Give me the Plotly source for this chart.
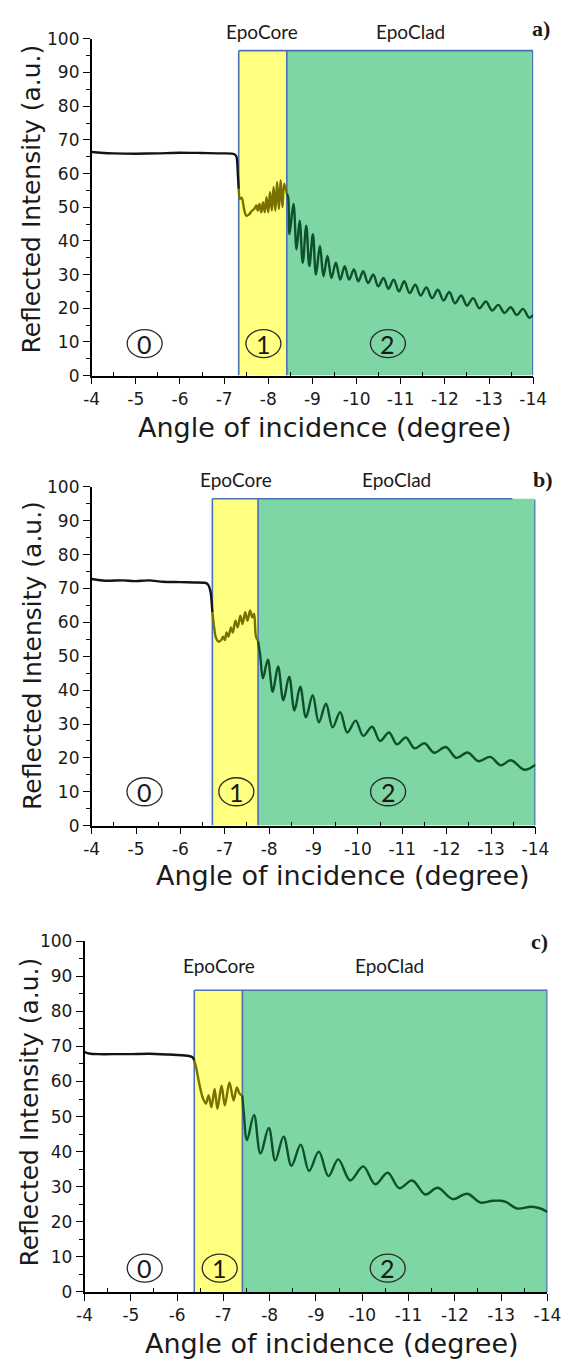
import plotly.graph_objects as go

W, H = 577, 1369

# ---------------- data ----------------
x_tick_vals = [-4, -5, -6, -7, -8, -9, -10, -11, -12, -13, -14]
x_tick_text = ["-4", "-5", "-6", "-7", "-8", "-9", "-10", "-11", "-12", "-13", "-14"]
x_minor_vals = [-4.5, -5.5, -6.5, -7.5, -8.5, -9.5, -10.5, -11.5, -12.5, -13.5]
y_tick_vals = [0, 10, 20, 30, 40, 50, 60, 70, 80, 90, 100]
y_tick_text = ["0", "10", "20", "30", "40", "50", "60", "70", "80", "90", "100"]
y_minor_vals = [5, 15, 25, 35, 45, 55, 65, 75, 85, 95]

x_title = "Angle of incidence (degree)"
y_title = "Reflected Intensity (a.u.)"
core_label = "EpoCore"
clad_label = "EpoClad"
region_labels = ["0", "1", "2"]
panel_letters = ["a)", "b)", "c)"]

# panel a
a_air_x = [-4.0, -4.2, -4.5, -5.0, -5.5, -6.0, -6.5, -7.0, -7.22, -7.28, -7.31, -7.33]
a_air_y = [66.4, 66.2, 66.0, 65.9, 66.0, 66.2, 66.1, 66.0, 65.8, 65.0, 60.0, 55.5]
a_core_x = [-7.33, -7.36, -7.40, -7.45, -7.50, -7.56, -7.62, -7.68, -7.73, -7.76, -7.80, -7.84, -7.88,
            -7.92, -7.96, -8.00, -8.04, -8.08, -8.12, -8.16, -8.20, -8.24, -8.28, -8.32, -8.36, -8.42]
a_core_y = [55.5, 52.5, 52.8, 49.5, 47.5, 47.8, 48.8, 49.5, 50.5, 49.0, 51.0, 48.5, 51.5,
            48.5, 53.0, 48.5, 54.5, 49.0, 56.0, 49.0, 57.5, 49.5, 58.0, 50.0, 57.0, 54.0]
a_clad_x = [-8.42, -8.45, -8.48, -8.57, -8.64, -8.71, -8.78, -8.86, -8.93, -9.01, -9.08, -9.17, -9.25,
            -9.34, -9.43, -9.53, -9.63, -9.73, -9.83, -9.94, -10.04, -10.15, -10.26, -10.38, -10.49,
            -10.61, -10.72, -10.84, -10.96, -11.08, -11.20, -11.33, -11.45, -11.58, -11.71, -11.84,
            -11.97, -12.10, -12.23, -12.37, -12.50, -12.64, -12.78, -12.93, -13.07, -13.21, -13.35,
            -13.49, -13.63, -13.77, -13.91, -14.0]
a_clad_y = [54.0, 53.0, 42.0, 51.0, 37.5, 46.0, 33.5, 44.5, 32.5, 42.0, 30.0, 38.5, 29.5,
            35.5, 29.0, 33.5, 28.5, 32.5, 28.5, 31.5, 28.0, 31.0, 27.5, 30.0, 26.5,
            29.0, 25.8, 28.5, 25.0, 28.0, 24.5, 27.0, 23.8, 26.2, 23.0, 25.5,
            22.3, 24.8, 21.5, 23.8, 20.8, 23.0, 20.0, 22.0, 19.3, 21.0, 18.6,
            20.3, 18.0, 19.8, 17.2, 18.0]
a_regions = [-7.33, -8.42, -14.0]   # core start, clad start, clad end
a_top = 96.5

# panel b
b_air_x = [-4.0, -4.3, -4.7, -5.0, -5.3, -5.6, -6.0, -6.3, -6.55, -6.62, -6.68, -6.72]
b_air_y = [72.8, 72.3, 72.4, 72.2, 72.4, 72.0, 71.9, 71.8, 71.7, 71.2, 69.0, 63.0]
b_core_x = [-6.72, -6.76, -6.80, -6.86, -6.92, -6.96, -7.00, -7.04, -7.08, -7.14, -7.18, -7.24,
            -7.29, -7.35, -7.40, -7.46, -7.51, -7.57, -7.62, -7.66, -7.70, -7.75]
b_core_y = [63.0, 58.5, 55.5, 54.3, 54.8, 55.8, 54.8, 57.0, 55.8, 58.5, 57.0, 60.5,
            58.5, 62.0, 59.5, 63.0, 60.5, 63.5, 61.5, 62.5, 56.0, 54.5]
b_clad_x = [-7.75, -7.80, -7.86, -7.97, -8.08, -8.20, -8.32, -8.45, -8.57, -8.70, -8.83, -8.98,
            -9.12, -9.28, -9.43, -9.60, -9.76, -9.95, -10.12, -10.32, -10.50, -10.70, -10.88,
            -11.08, -11.28, -11.50, -11.72, -11.98, -12.22, -12.47, -12.72, -12.98, -13.22,
            -13.45, -13.75, -14.0]
b_clad_y = [54.5, 50.0, 43.5, 49.0, 39.5, 47.0, 37.0, 44.0, 34.0, 41.0, 32.0, 38.5,
            30.5, 36.0, 29.0, 33.5, 27.5, 31.0, 26.5, 29.2, 25.0, 27.5, 24.0,
            26.0, 22.8, 24.3, 21.5, 23.2, 20.0, 21.6, 19.0, 20.3, 17.8,
            19.3, 16.5, 18.0]
b_regions = [-6.72, -7.75, -14.0]
b_top = 96.5

# panel c
c_air_x = [-4.0, -4.1, -4.3, -4.7, -5.0, -5.4, -5.8, -6.1, -6.28, -6.34, -6.37]
c_air_y = [68.4, 68.0, 67.8, 67.8, 67.8, 67.9, 67.7, 67.5, 67.2, 66.8, 66.0]
c_core_x = [-6.37, -6.41, -6.48, -6.55, -6.62, -6.68, -6.74, -6.81, -6.87, -6.96, -7.03, -7.13,
            -7.22, -7.29, -7.35, -7.41]
c_core_y = [66.0, 64.0, 59.3, 55.5, 53.7, 56.0, 52.7, 57.9, 52.2, 58.8, 53.2, 59.7,
            54.6, 58.3, 56.5, 56.0]
c_clad_x = [-7.41, -7.44, -7.51, -7.66, -7.80, -7.98, -8.12, -8.30, -8.47, -8.67, -8.85, -9.06,
            -9.27, -9.48, -9.74, -10.02, -10.28, -10.55, -10.80, -11.08, -11.36, -11.63, -11.95,
            -12.27, -12.55, -12.82, -13.00, -13.10, -13.35, -13.65, -13.85, -14.0]
c_clad_y = [56.0, 51.0, 43.3, 50.5, 39.5, 46.8, 37.5, 44.3, 36.0, 42.0, 34.5, 40.0,
            33.0, 37.8, 31.8, 35.8, 30.7, 34.0, 29.6, 31.8, 27.8, 29.7, 26.5,
            28.0, 25.5, 26.0, 26.0, 25.7, 23.8, 24.3, 23.8, 22.8]
c_regions = [-6.37, -7.41, -14.0]
c_top = 86.0

# ---------------- styling / layout (pixel geometry) ----------------
YELLOW = "#FFFF80"
GREEN = "#7DD6A4"
BLUE = "#4A70B8"
C_AIR = "#141414"
C_CORE = "#7A7000"
C_CLAD = "#0E5029"
TXT = "#1a1a1a"
SANS = "DejaVu Sans"

panels = [
    dict(air=(a_air_x, a_air_y), core=(a_core_x, a_core_y), clad=(a_clad_x, a_clad_y),
         regions=a_regions, top=a_top, top_line_end=None,
         px=(87, 546), py=(371, 29.3),
         core_lbl=(264, 21.7), clad_lbl=(418, 21.7), letter=(554.5, 19),
         circles=[(-5.20, 9.5), (-7.89, 9.5), (-10.71, 9.5)],
         xtitle=(330, 423.5), ytitle=(24.6, 191.7)),
    dict(air=(b_air_x, b_air_y), core=(b_core_x, b_core_y), clad=(b_clad_x, b_clad_y),
         regions=b_regions, top=b_top, top_line_end=-13.48,
         px=(87, 548.3), py=(827.7, 484),
         core_lbl=(237.3, 476), clad_lbl=(404, 476), letter=(556, 476.7),
         circles=[(-5.19, 10.0), (-7.26, 10.0), (-10.68, 10.0)],
         xtitle=(348, 878), ytitle=(25.5, 655)),
    dict(air=(c_air_x, c_air_y), core=(c_core_x, c_core_y), clad=(c_clad_x, c_clad_y),
         regions=c_regions, top=c_top, top_line_end=None,
         px=(79.6, 560.8), py=(1301, 945),
         core_lbl=(219, 969.3), clad_lbl=(397, 969.3), letter=(552.7, 945),
         circles=[(-5.30, 6.8), (-6.92, 6.8), (-10.55, 6.8)],
         xtitle=(337, 1353), ytitle=(22.8, 1118)),
]

fig = go.Figure()
shapes = []
annotations = []
layout_axes = {}


def paper(pt):
    return pt[0] / W, 1 - pt[1] / H


for i, p in enumerate(panels):
    n = "" if i == 0 else str(i + 1)
    xr, yr = "x" + n, "y" + n
    # traces
    for (xs, ys), col, sm in [(p["air"], C_AIR, 0.6), (p["core"], C_CORE, 0.9), (p["clad"], C_CLAD, 1.0)]:
        fig.add_trace(go.Scatter(x=xs, y=ys, xaxis=xr, yaxis=yr, mode="lines",
                                 line=dict(color=col, width=2.4, shape="spline", smoothing=sm),
                                 showlegend=False, hoverinfo="skip"))
    x0, x1, x2 = p["regions"]
    top = p["top"]
    shapes += [
        dict(type="rect", xref=xr, yref=yr, x0=x0, x1=x1, y0=0, y1=top,
             fillcolor=YELLOW, line=dict(width=0), layer="below"),
        dict(type="rect", xref=xr, yref=yr, x0=x1, x1=x2, y0=0, y1=top,
             fillcolor=GREEN, line=dict(width=0), layer="below"),
        dict(type="line", xref=xr, yref=yr, x0=x0, x1=x0, y0=0, y1=top,
             line=dict(color=BLUE, width=1.6), layer="below"),
        dict(type="line", xref=xr, yref=yr, x0=x1, x1=x1, y0=0, y1=top,
             line=dict(color=BLUE, width=1.6), layer="below"),
        dict(type="line", xref=xr, yref=yr, x0=x2, x1=x2, y0=0,
             y1=top if p["top_line_end"] is None else top - 0.3,
             line=dict(color=BLUE, width=2.2), layer="below"),
        dict(type="line", xref=xr, yref=yr, x0=x0,
             x1=x2 if p["top_line_end"] is None else p["top_line_end"], y0=top, y1=top,
             line=dict(color=BLUE, width=1.6), layer="below"),
    ]
    # region circles
    for (cx, cy), lab in zip(p["circles"], region_labels):
        shapes.append(dict(type="circle", xref=xr, yref=yr, xsizemode="pixel", ysizemode="pixel",
                           xanchor=cx, yanchor=cy, x0=-17.5, x1=17.5, y0=-14, y1=14,
                           line=dict(color="#2a2a2a", width=1.3), fillcolor="rgba(0,0,0,0)",
                           layer="above"))
        annotations.append(dict(x=cx, y=cy, xref=xr, yref=yr, text=lab, showarrow=False,
                                font=dict(family="Lato", size=25, color=TXT),
                                xanchor="center", yanchor="middle"))
    cxp, cyp = paper(p["core_lbl"])
    dxp, dyp = paper(p["clad_lbl"])
    lxp, lyp = paper(p["letter"])
    txp, typ = paper(p["xtitle"])
    yxp, yyp = paper(p["ytitle"])
    annotations += [
        dict(x=cxp, y=cyp, xref="paper", yref="paper", text=core_label, showarrow=False,
             xanchor="center", yanchor="middle", font=dict(family="Lato", size=19, color=TXT)),
        dict(x=dxp, y=dyp, xref="paper", yref="paper", text=clad_label, showarrow=False,
             xanchor="center", yanchor="middle", font=dict(family="Lato", size=19, color=TXT)),
        dict(x=lxp, y=lyp, xref="paper", yref="paper", text="<b>%s</b>" % panel_letters[i],
             showarrow=False, xanchor="center", yanchor="middle",
             font=dict(family="Liberation Serif", size=22, color=TXT)),
        dict(x=txp, y=typ, xref="paper", yref="paper",
             text=x_title, showarrow=False, xanchor="center", yanchor="middle",
             font=dict(family=SANS, size=27, color=TXT)),
        dict(x=yxp, y=yyp, xref="paper", yref="paper",
             text=y_title, showarrow=False, xanchor="center", yanchor="middle", textangle=-90,
             font=dict(family=SANS, size=25, color=TXT)),
    ]
    tickfont = dict(family=SANS, size=17, color=TXT)
    layout_axes["xaxis" + n] = dict(
        domain=[p["px"][0] / W, p["px"][1] / W], anchor=yr, range=[-4, -14],
        tickmode="array", tickvals=x_tick_vals, ticktext=x_tick_text,
        ticks="outside", ticklen=7, tickwidth=1.4, tickcolor="black",
        showline=True, linecolor="black", linewidth=1.6, showgrid=False, zeroline=False,
        tickfont=tickfont, ticklabelstandoff=0,
        minor=dict(tickmode="array", tickvals=x_minor_vals, ticks="inside", ticklen=4,
                   tickwidth=1.2, tickcolor="black", showgrid=False),
        fixedrange=True)
    layout_axes["yaxis" + n] = dict(
        domain=[1 - p["py"][0] / H, 1 - p["py"][1] / H], anchor=xr, range=[0, 100],
        tickmode="array", tickvals=y_tick_vals, ticktext=y_tick_text,
        ticks="outside", ticklen=7, tickwidth=1.4, tickcolor="black",
        showline=True, linecolor="black", linewidth=1.6, showgrid=False, zeroline=False,
        tickfont=tickfont,
        minor=dict(tickmode="array", tickvals=y_minor_vals, ticks="outside", ticklen=4,
                   tickwidth=1.2, tickcolor="black", showgrid=False),
        fixedrange=True)

fig.update_layout(
    width=W, height=H, autosize=False,
    margin=dict(l=0, r=0, t=0, b=0),
    paper_bgcolor="white", plot_bgcolor="white",
    showlegend=False,
    shapes=shapes, annotations=annotations,
    **layout_axes)

fig.write_html("out.html")
